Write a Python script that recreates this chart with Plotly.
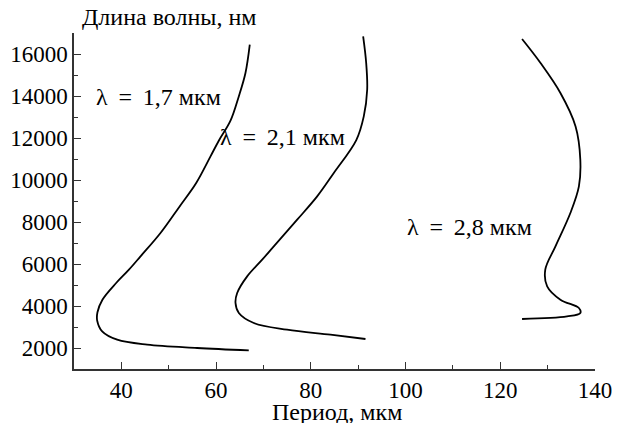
import plotly.graph_objects as go

# Curve λ = 1,7 мкм
x17 = [67.11, 66.2, 64.79, 63.04, 60.57, 58.82, 55.8, 52.3, 48.26, 44.04, 41.6, 38.9, 36.0, 34.95, 34.9, 35.95, 39.12, 45.45, 56.0, 66.9]
y17 = [16443, 15095, 13981, 12824, 11871, 11124, 9857, 8743, 7476, 6362, 5729, 5095, 4300, 3700, 3300, 2791, 2395, 2157, 2000, 1886]

# Curve λ = 2,1 мкм
x21 = [91.05, 91.69, 91.9, 91.18, 89.6, 84.85, 81.34, 77.12, 72.18, 69.73, 66.56, 64.45, 64.1, 64.8, 67.96, 75.0, 84.15, 91.54]
y21 = [16838, 15571, 14300, 13029, 11900, 10333, 9219, 8110, 6838, 6205, 5410, 4619, 4143, 3667, 3190, 2871, 2633, 2429]

# Curve λ = 2,8 мкм
x28 = [124.6, 128.5, 132.7, 135.9, 136.9, 136.6, 134.8, 131.65, 129.5, 129.9, 132.7, 136.6, 136.9, 134.1, 124.6]
y28 = [16714, 15571, 14143, 12552, 10967, 9695, 8429, 6838, 5729, 4933, 4300, 3905, 3667, 3505, 3381]

labels = ["λ \u2009= \u20091,7 мкм", "λ \u2009= \u20092,1 мкм", "λ \u2009= \u20092,8 мкм"]
label_x = [47.8, 74.0, 113.5]
label_y = [13970, 12060, 7780]

x_title = "Период, мкм"
y_title = "Длина волны, нм"

FONT = "Liberation Serif"
TXT = 24

fig = go.Figure()
for xs, ys in [(x17, y17), (x21, y21), (x28, y28)]:
    fig.add_trace(go.Scatter(x=xs, y=ys, mode="lines",
                             line=dict(color="black", width=1.8, shape="spline", smoothing=1.0),
                             showlegend=False, hoverinfo="skip"))

for t, lx, ly in zip(labels, label_x, label_y):
    fig.add_annotation(x=lx, y=ly, text=t, showarrow=False,
                       font=dict(family=FONT, size=TXT, color="black"),
                       xanchor="center", yanchor="middle")

fig.add_annotation(xref="paper", yref="paper", x=0.012, y=1.048, text=y_title,
                   showarrow=False, xanchor="left", yanchor="middle",
                   font=dict(family=FONT, size=TXT, color="black"))
fig.add_annotation(xref="paper", yref="paper", x=0.505, y=-0.127, text=x_title,
                   showarrow=False, xanchor="center", yanchor="middle",
                   font=dict(family=FONT, size=TXT, color="black"))

axis_common = dict(showgrid=False, zeroline=False, showline=True, linecolor="#333",
                   linewidth=1.5, ticks="inside", ticklen=7, tickwidth=1.2, tickcolor="#333",
                   tickfont=dict(family=FONT, size=23, color="black"), mirror=False,
                   automargin=False, tickformat="d")

# the page body adds an 8px offset, so the figure is 8px smaller and margins shifted
fig.update_layout(
    width=612, height=415,
    margin=dict(l=66, r=25, t=25, b=54, autoexpand=False),
    paper_bgcolor="white", plot_bgcolor="white",
    xaxis=dict(range=[30, 140], dtick=20, tick0=0,
               minor=dict(dtick=10, ticks="inside", ticklen=4, tickcolor="#333", tickwidth=1),
               **axis_common),
    yaxis=dict(range=[1000, 17000], dtick=2000, tick0=0,
               minor=dict(dtick=1000, ticks="inside", ticklen=4, tickcolor="#333", tickwidth=1),
               **axis_common),
)

fig.write_html("out.html")
